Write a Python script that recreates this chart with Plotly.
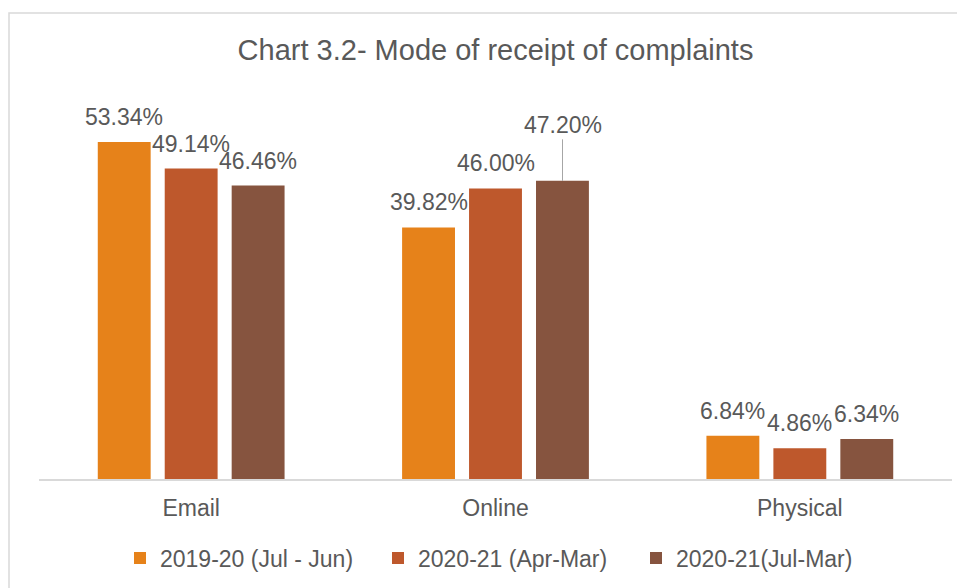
import plotly.graph_objects as go

categories = ["Email", "Online", "Physical"]
series_names = ["2019-20 (Jul - Jun)", "2020-21 (Apr-Mar)", "2020-21(Jul-Mar)"]
values_2019_20 = [53.34, 39.82, 6.84]
values_2020_21_apr = [49.14, 46.00, 4.86]
values_2020_21_jul = [46.46, 47.20, 6.34]
series_values = [values_2019_20, values_2020_21_apr, values_2020_21_jul]
colors = ["#E6821A", "#BE582C", "#86543F"]

FONT = "Liberation Sans, Arial, sans-serif"
TXT = "#595959"

fig = go.Figure()
for name, vals, col in zip(series_names, series_values, colors):
    fig.add_trace(go.Bar(x=categories, y=vals, name=name, marker_color=col,
                         marker_line_width=0))

# data labels
offsets = [-67, 0, 67]
for si, vals in enumerate(series_values):
    for ci, v in enumerate(vals):
        leader = (si == 2 and ci == 1)
        fig.add_annotation(
            x=categories[ci], y=v, xref="x", yref="y",
            text=f"{v:.2f}%", xshift=offsets[si],
            showarrow=leader, ax=0, ay=-56, arrowhead=0, arrowwidth=1,
            arrowcolor="#A6A6A6", standoff=0, startstandoff=0,
            yshift=0 if leader else 25, yanchor="middle",
            font=dict(family=FONT, size=23, color=TXT),
        )

# page is offset by 8px body margin
L, R, T, B = 31, 21, 92, 117
W, H = 965, 588
pw, ph = W - L - R, H - T - B
fig.add_shape(type="rect", xref="paper", yref="paper",
              x0=(1 - L) / pw, x1=(1000 - L) / pw,
              y0=(H - T - 620) / ph, y1=1 + (T - 5) / ph,
              line=dict(color="#D9D9D9", width=1.5), layer="below")

fig.update_layout(
    width=W, height=H,
    margin=dict(l=L, r=R, t=T, b=B),
    paper_bgcolor="white", plot_bgcolor="white",
    barmode="group", bargap=0.34, bargroupgap=0.21,
    title=dict(text="Chart 3.2- Mode of receipt of complaints",
               x=0.5, xref="paper", y=(H - 42) / H, yanchor="middle",
               font=dict(family=FONT, size=29, color=TXT)),
    font=dict(family=FONT, color=TXT),
    showlegend=True,
    legend=dict(orientation="h", x=(112 - L) / pw, xanchor="left",
                y=(471 - 550) / ph, yanchor="middle",
                entrywidth=213, entrywidthmode="pixels",
                font=dict(family=FONT, size=23, color=TXT),
                itemclick=False, traceorder="normal"),
    xaxis=dict(showline=True, linecolor="#D9D9D9", linewidth=1.5,
               ticks="", ticklabelstandoff=8,
               tickfont=dict(family=FONT, size=23, color=TXT),
               showgrid=False),
    yaxis=dict(range=[0, 60], visible=False, showgrid=False),
)

fig.write_html("out.html")
